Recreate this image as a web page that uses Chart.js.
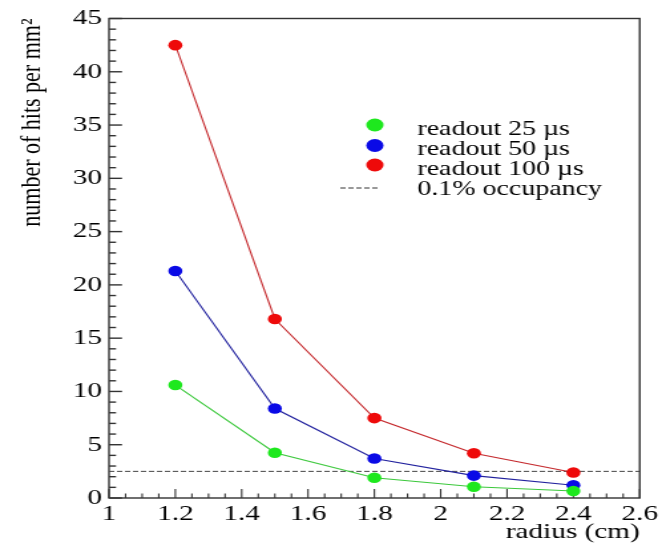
<!DOCTYPE html>
<html>
<head>
<meta charset="utf-8">
<script src="https://cdn.jsdelivr.net/npm/chart.js@4"></script>
<style>
  html, body { margin: 0; padding: 0; background: #fff; overflow: hidden; }
  #wrap { width: 662px; height: 543px; overflow: hidden; }
  /* the original picture is stretched sideways, so the canvas is too */
  #hitsChart { display: block; transform: scaleX(1.3293); transform-origin: 0 0; }
</style>
</head>
<body>
<div id="wrap"><canvas id="hitsChart" width="498" height="543"></canvas></div>
<script>
// Data
const radius = [1.2, 1.5, 1.8, 2.1, 2.4];
const hits25 = [10.6, 4.25, 1.9, 1.05, 0.65];
const hits50 = [21.3, 8.4, 3.7, 2.1, 1.2];
const hits100 = [42.5, 16.8, 7.5, 4.2, 2.4];
const occupancyLimit = 2.5;
const xRange = [1, 2.6];
const yRange = [0, 45];
const seriesLabels = ['readout 25 µs', 'readout 50 µs', 'readout 100 µs', '0.1% occupancy'];

document.addEventListener('DOMContentLoaded', () => {
    const serif = '"Liberation Serif", "Times New Roman", serif';
    const axisColor = '#333';
    const textColor = '#000';
    const pointColors = ['#1ee81e', '#0a0ae6', '#ee0a0a'];
    const lineColors = ['#3cc83c', '#22229e', '#c4282c'];

    const toPoints = ys => radius.map((r, i) => ({ x: r, y: ys[i] }));

    const makeSeries = (label, ys, idx) => ({
        label: label,
        data: toPoints(ys),
        borderColor: lineColors[idx],
        backgroundColor: pointColors[idx],
        borderWidth: 1.1,
        pointRadius: 5.3,
        pointBorderWidth: 0,
        showLine: true,
        tension: 0
    });

    // ticks pointing into the plot, plus the frame
    const frameTicks = {
        id: 'frameTicks',
        beforeDatasetsDraw(chart) {
            const { ctx, chartArea: a, scales: { x, y } } = chart;
            ctx.save();
            ctx.strokeStyle = axisColor;
            ctx.lineWidth = 1.4;
            for (let v = yRange[0]; v <= yRange[1]; v += 1) {
                const py = y.getPixelForValue(v);
                const len = v % 5 === 0 ? 9.8 : 5.3;
                ctx.beginPath();
                ctx.moveTo(a.left, py);
                ctx.lineTo(a.left + len, py);
                ctx.stroke();
            }
            ctx.lineWidth = 1.1;
            for (let i = 0; i <= 32; i++) {
                const px = x.getPixelForValue(xRange[0] + i * 0.05);
                const len = i % 4 === 0 ? 9 : 4.5;
                ctx.beginPath();
                ctx.moveTo(px, a.bottom);
                ctx.lineTo(px, a.bottom - len);
                ctx.stroke();
            }
            ctx.lineWidth = 1.4;
            ctx.strokeRect(a.left, a.top, a.right - a.left, a.bottom - a.top);
            ctx.restore();
        }
    };

    // legend box inside the plot
    const boxLegend = {
        id: 'boxLegend',
        afterDraw(chart) {
            const { ctx } = chart;
            const markX = 282, textX = 314;
            const rows = [125, 145.5, 165];
            const baselines = [135, 155, 174.5, 195];
            ctx.save();
            rows.forEach((ry, i) => {
                ctx.fillStyle = pointColors[i];
                ctx.beginPath();
                ctx.arc(markX, ry, 6.5, 0, Math.PI * 2);
                ctx.fill();
            });
            ctx.strokeStyle = '#333';
            ctx.lineWidth = 1;
            ctx.setLineDash([4, 2]);
            ctx.beginPath();
            ctx.moveTo(256, 188);
            ctx.lineTo(284, 188);
            ctx.stroke();
            ctx.setLineDash([]);
            ctx.fillStyle = textColor;
            ctx.font = '21px ' + serif;
            ctx.textBaseline = 'alphabetic';
            seriesLabels.forEach((t, i) => ctx.fillText(t, textX, baselines[i]));
            ctx.restore();
        }
    };

    const data = {
        datasets: [
            makeSeries(seriesLabels[0], hits25, 0),
            makeSeries(seriesLabels[1], hits50, 1),
            makeSeries(seriesLabels[2], hits100, 2),
            { // 0.1% occupancy level
                label: seriesLabels[3],
                data: xRange.map(r => ({ x: r, y: occupancyLimit })),
                borderColor: '#444',
                borderWidth: 1,
                borderDash: [4, 2],
                pointRadius: 0,
                showLine: true
            }
        ]
    };

    const config = {
        type: 'scatter',
        data,
        options: {
            responsive: false,
            animation: false,
            layout: { padding: { top: 18, right: 13.5, left: 0, bottom: 0 } },
            plugins: {
                legend: { display: false },
                tooltip: { enabled: false }
            },
            scales: {
                x: {
                    type: 'linear',
                    min: xRange[0],
                    max: xRange[1],
                    afterFit: s => { s.height = 45; },
                    grid: { display: false, drawTicks: false },
                    border: { display: false },
                    ticks: {
                        stepSize: 0.2,
                        padding: 3,
                        color: textColor,
                        font: { family: serif, size: 22 },
                        maxRotation: 0,
                        callback: v => String(Number(v.toFixed(1)))
                    },
                    title: {
                        display: true,
                        text: 'radius (cm)',
                        align: 'end',
                        color: textColor,
                        font: { family: serif, size: 22 },
                        padding: { top: 0, bottom: -2 }
                    }
                },
                y: {
                    min: yRange[0],
                    max: yRange[1],
                    afterFit: s => { s.width = 82; },
                    grid: { display: false, drawTicks: false },
                    border: { display: false },
                    ticks: {
                        stepSize: 5,
                        padding: 5.3,
                        color: textColor,
                        font: { family: serif, size: 22 }
                    },
                    title: {
                        display: true,
                        text: 'number of hits per mm²',
                        align: 'end',
                        color: textColor,
                        font: { family: serif, size: 22 },
                        padding: { top: 11, bottom: 0 }
                    }
                }
            }
        },
        plugins: [frameTicks, boxLegend]
    };

    new Chart(document.getElementById('hitsChart'), config);
});
</script>
</body>
</html>
